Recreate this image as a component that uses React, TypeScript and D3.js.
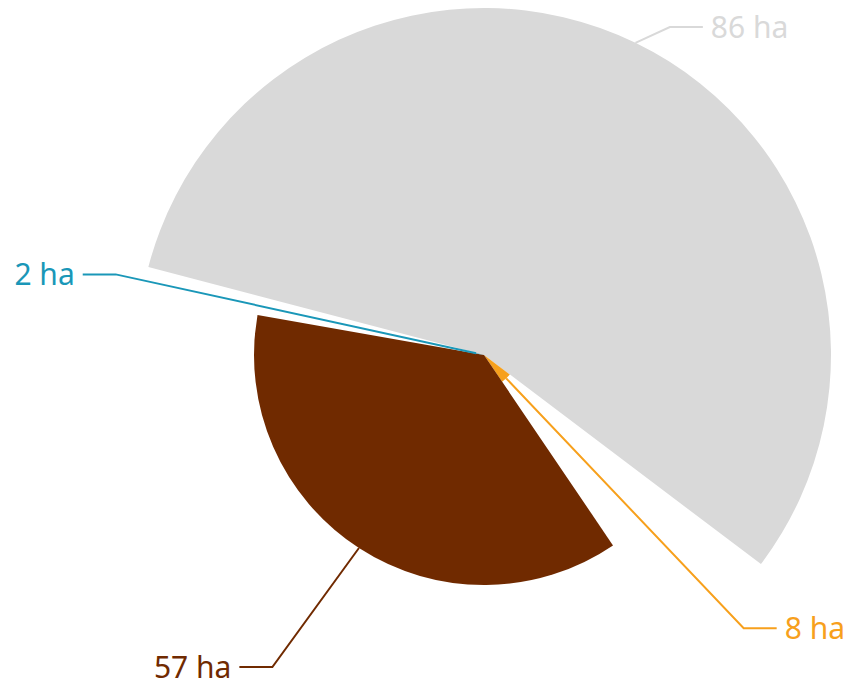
import * as d3 from 'd3';
import React, { useEffect, useRef } from 'react';

const labels = ['86 ha', '8 ha', '57 ha', '2 ha'];
const values = [86, 8, 57, 2];
const colors = ['#d9d9d9', '#f7a01c', '#702a00', '#1a97b8'];

const W = 852;
const H = 684;

export default function App() {
  const ref = useRef<SVGSVGElement>(null);

  useEffect(() => {
    drawChart();
  }, []);

  function drawChart() {
    const svg = d3.select(ref.current);
    svg.selectAll('*').remove();

    const cx = 484;
    const cy = 355;
    const elbowR = 377;
    const topLimit = 27;
    const bottomLimit = 667;

    const g = svg.append('g').attr('transform', `translate(${cx},${cy})`);

    // radius grows with the value
    const rScale = d3.scaleLinear().domain([0, 86]).range([0, 347]);

    const start = (-75.3 * Math.PI) / 180;
    const pie = d3
      .pie<number>()
      .sort(null)
      .value((d) => d)
      .startAngle(start)
      .endAngle(start + 2 * Math.PI);

    const arcs = pie(values);

    const arc = d3
      .arc<d3.PieArcDatum<number>>()
      .innerRadius(0)
      .outerRadius((d) => rScale(d.data));

    g.selectAll('path.slice')
      .data(arcs)
      .enter()
      .append('path')
      .attr('class', 'slice')
      .attr('fill', (d, i) => colors[i])
      .attr('d', arc as any);

    arcs.forEach((d, i) => {
      const mid = (d.startAngle + d.endAngle) / 2;
      const r = rScale(d.data);
      const sx = Math.sin(mid) * r;
      const sy = -Math.cos(mid) * r;
      const side = Math.sin(mid) >= 0 ? 1 : -1;
      // keep labels inside the picture, elbow slides along the outer circle
      let ey = -Math.cos(mid) * elbowR;
      ey = Math.max(topLimit - cy, Math.min(bottomLimit - cy, ey));
      const ex = side * Math.sqrt(elbowR * elbowR - ey * ey);
      const hx = ex + side * 33;

      g.append('polyline')
        .attr('points', `${sx},${sy} ${ex},${ey} ${hx},${ey}`)
        .attr('fill', 'none')
        .attr('stroke', colors[i])
        .attr('stroke-width', 2);

      g.append('text')
        .attr('x', hx + side * 8)
        .attr('y', ey)
        .attr('dy', '0.35em')
        .attr('text-anchor', side > 0 ? 'start' : 'end')
        .attr('fill', colors[i])
        .style('font-family', '"Noto Sans", sans-serif')
        .style('font-size', '30px')
        .text(labels[i]);
    });
  }

  return (
    <div style={{ position: 'absolute', left: 0, top: 0 }}>
      <svg ref={ref} width={W} height={H} />
    </div>
  );
}
